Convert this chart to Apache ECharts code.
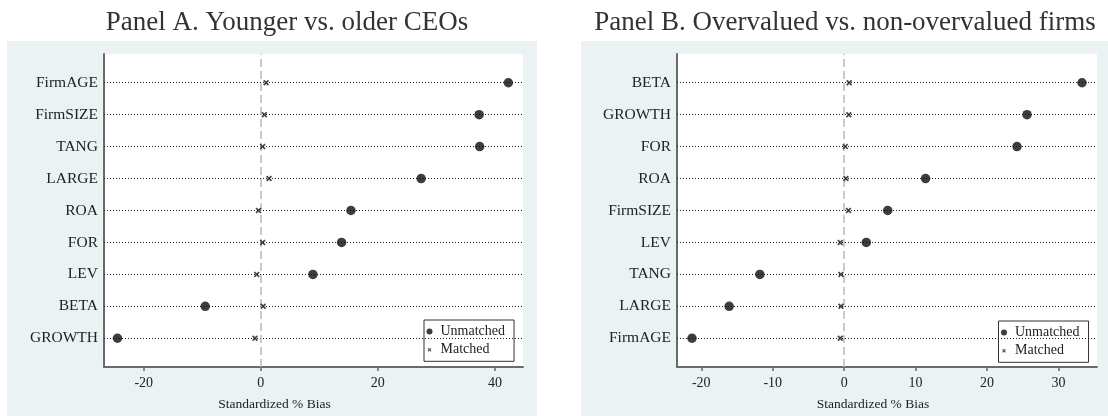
<!DOCTYPE html>
<html>
<head>
<meta charset="utf-8">
<script src="https://cdn.jsdelivr.net/npm/echarts@6/dist/echarts.min.js"></script>
<style>
html,body{margin:0;padding:0;background:#fff;}
#c{width:1108px;height:416px;}
</style>
</head>
<body>
<div id="c"></div>
<script>
// ---- Data (top-down order as shown) ----
const catsA = ['FirmAGE','FirmSIZE','TANG','LARGE','ROA','FOR','LEV','BETA','GROWTH'];
const unmatchedA = [42.3, 37.3, 37.4, 27.4, 15.4, 13.8, 8.9, -9.5, -24.5];
const matchedA = [0.9, 0.6, 0.3, 1.4, -0.4, 0.3, -0.7, 0.4, -1.0];
const ticksA = [-20, 0, 20, 40];

const catsB = ['BETA','GROWTH','FOR','ROA','FirmSIZE','LEV','TANG','LARGE','FirmAGE'];
const unmatchedB = [33.3, 25.6, 24.2, 11.4, 6.1, 3.1, -11.8, -16.1, -21.3];
const matchedB = [0.7, 0.65, 0.15, 0.25, 0.6, -0.55, -0.45, -0.45, -0.55];
const ticksB = [-20, -10, 0, 10, 20, 30];

const titleA = 'Panel A. Younger vs. older CEOs';
const titleB = 'Panel B. Overvalued vs. non-overvalued firms';
const xTitle = 'Standardized % Bias';

// ---- Styling ----
const SERIF = '"Liberation Serif", "DejaVu Serif", serif';
const BG = '#eaf2f3';
const AXIS = '#6a6a6a';
const X_SYMBOL = 'path://M0,2L2,0L5,3L8,0L10,2L7,5L10,8L8,10L5,7L2,10L0,8L3,5Z';
const X_ICON = 'path://M-3,-3M13,13M0,2L2,0L5,3L8,0L10,2L7,5L10,8L8,10L5,7L2,10L0,8L3,5Z';

function yAxisFor(cats, gi) {
  const n = cats.length;
  const vals = cats.map((c, i) => n - i);
  return {
    type: 'value', gridIndex: gi, min: 0.1, max: n + 0.9,
    axisLine: { show: true, onZero: false, lineStyle: { color: AXIS, width: 2 } },
    axisTick: { show: false },
    splitLine: { show: false },
    axisLabel: {
      customValues: vals,
      formatter: v => cats[n - Math.round(v)],
      fontFamily: SERIF, fontSize: 15.5, color: '#222', margin: 6
    }
  };
}
function xAxisFor(gi, min, max, ticks) {
  return {
    type: 'value', gridIndex: gi, min: min, max: max,
    axisLine: { show: true, onZero: false, lineStyle: { color: AXIS, width: 2 } },
    axisTick: { show: true, customValues: ticks, length: 4, lineStyle: { color: AXIS, width: 1.5 } },
    splitLine: { show: false },
    axisLabel: { customValues: ticks, fontFamily: SERIF, fontSize: 14, color: '#222', margin: 9 }
  };
}
function seriesFor(cats, um, m, gi) {
  const n = cats.length;
  return [
    {
      name: 'Unmatched', type: 'scatter', xAxisIndex: gi, yAxisIndex: gi,
      symbol: 'circle', symbolSize: 9.5, itemStyle: { color: '#0d0d0d' }, z: 5,
      data: um.map((v, i) => [v, n - i]),
      markLine: {
        silent: true, symbol: 'none', label: { show: false },
        lineStyle: { type: [1, 2], color: '#1a1a1a', width: 1 },
        emphasis: { disabled: true },
        data: cats.map((c, i) => ({ yAxis: n - i }))
      }
    },
    {
      name: 'Matched', type: 'scatter', xAxisIndex: gi, yAxisIndex: gi,
      symbol: X_SYMBOL, symbolSize: 6, itemStyle: { color: '#1a1a1a' }, z: 6,
      data: m.map((v, i) => [v, n - i]),
      markLine: {
        silent: true, symbol: 'none', label: { show: false },
        lineStyle: { type: [8, 4], color: '#b9b9b9', width: 1.5 },
        emphasis: { disabled: true },
        data: [{ xAxis: 0 }]
      }
    }
  ];
}
function legendFor(left, top) {
  return {
    orient: 'vertical', left: left, top: top,
    backgroundColor: '#fff', borderColor: '#333', borderWidth: 1, borderRadius: 0,
    padding: [3.5, 9, 3.5, 2.5], itemGap: 2.3, itemWidth: 12, itemHeight: 6,
    selectedMode: false,
    textStyle: { fontFamily: SERIF, fontSize: 14, color: '#222', lineHeight: 16 },
    data: [
      { name: 'Unmatched', icon: 'circle' },
      { name: 'Matched', icon: X_ICON }
    ]
  };
}

const chart = echarts.init(document.getElementById('c'), null, { renderer: 'canvas' });
chart.setOption({
  animation: false,
  backgroundColor: '#fff',
  graphic: [
    { type: 'rect', silent: true, z: -10, shape: { x: 7, y: 41, width: 530, height: 375 }, style: { fill: BG } },
    { type: 'rect', silent: true, z: -10, shape: { x: 581, y: 41, width: 527, height: 375 }, style: { fill: BG } },
    { type: 'text', silent: true, z: 100, style: { text: titleA, x: 287, y: 22.5, textAlign: 'center', textVerticalAlign: 'middle', font: '27px ' + SERIF, fill: '#333' } },
    { type: 'text', silent: true, z: 100, style: { text: titleB, x: 845, y: 22.5, textAlign: 'center', textVerticalAlign: 'middle', font: '27px ' + SERIF, fill: '#333' } },
    { type: 'text', silent: true, z: 100, style: { text: xTitle, x: 274.5, y: 404, textAlign: 'center', textVerticalAlign: 'middle', font: '13.5px ' + SERIF, fill: '#222' } },
    { type: 'text', silent: true, z: 100, style: { text: xTitle, x: 873, y: 404, textAlign: 'center', textVerticalAlign: 'middle', font: '13.5px ' + SERIF, fill: '#222' } }
  ],
  grid: [
    { left: 104, top: 54, width: 419, height: 313, show: true, backgroundColor: '#fff', borderWidth: 0 },
    { left: 677, top: 54, width: 420, height: 313, show: true, backgroundColor: '#fff', borderWidth: 0 }
  ],
  xAxis: [xAxisFor(0, -26.8, 44.8, ticksA), xAxisFor(1, -23.4, 35.4, ticksB)],
  yAxis: [yAxisFor(catsA, 0), yAxisFor(catsB, 1)],
  legend: [legendFor(424, 320), legendFor(998.5, 321)],
  series: [].concat(seriesFor(catsA, unmatchedA, matchedA, 0), seriesFor(catsB, unmatchedB, matchedB, 1))
});
</script>
</body>
</html>
